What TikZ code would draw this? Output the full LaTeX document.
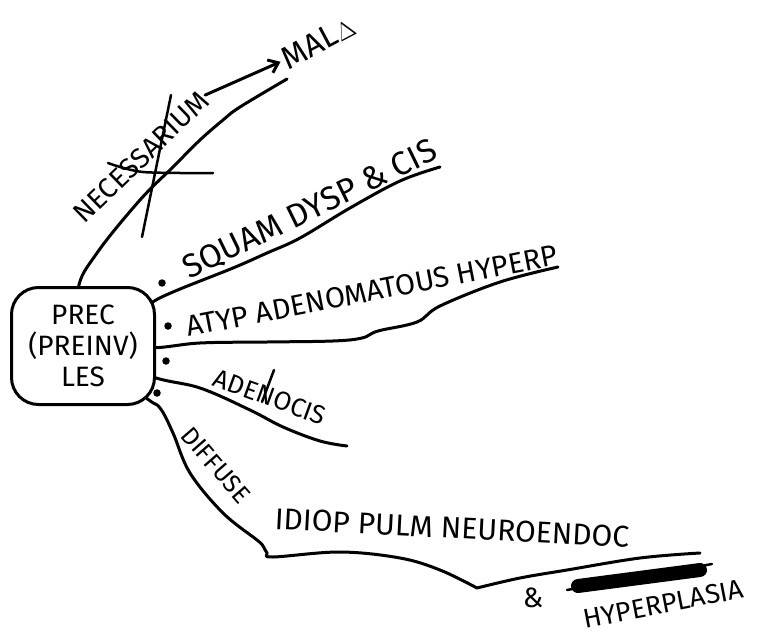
\documentclass[tikz,border=0pt]{standalone}
\usepackage{fontspec}
\setmainfont{Fira Sans}
\usetikzlibrary{positioning,arrows.meta,backgrounds}

\begin{document}
\begin{tikzpicture}[
    x=1pt, y=-1pt,
    hub/.style={draw, fill=white, line width=3pt, rounded corners=27pt,
                minimum width=143pt, minimum height=117pt, inner sep=0pt,
                align=center, font=\fontsize{28}{31}\selectfont},
    branch/.style={line width=3pt, line cap=round, line join=round},
    tag/.style={inner sep=1pt, font=\fontsize{#1}{#1}\selectfont},
    dot/.style={circle, fill, inner sep=0pt, minimum size=7.5pt},
    strike/.style={line width=2.5pt, line cap=round},
    smoothline/.style={branch, smooth, tension=0.6}
]
\useasboundingbox (0,0) rectangle (779,639);

% Central lesion box
\node[hub] (prec) at (83,346) {PREC\\(PREINV)\\LES};

% Branch labels
\node[tag=28, rotate=44] (nec) at (141,157) {NECESSARIUM};
\node[tag=32, rotate=28] (mal) at (318,42) {MAL$\Delta$};
\node[tag=33, rotate=26] (squam) at (310,210) {SQUAM DYSP \& CIS};
\node[tag=29, rotate=11] (atyp) at (372,291) {ATYP ADENOMATOUS HYPERP};
\node[tag=26, rotate=-20] (adeno) at (270,397) {ADENOCIS};
\node[tag=25, rotate=-49] (diff) at (216,465) {DIFFUSE};
\node[tag=30, rotate=-3] (idiop) at (452,528) {IDIOP PULM NEUROENDOC};
\node[tag=28] (amp) at (533,598) {\&};
\node[tag=27, rotate=11] (hyper) at (663,604) {HYPERPLASIA};

% Bullets
\node[dot] (sqdot) at (162,283) {};
\node[dot] (atdot) at (168,326) {};
\node[dot] (addot) at (166,361) {};
\node[dot] (didot) at (157,393) {};

% Branches (start hidden under the box)
\begin{scope}[on background layer]
\draw[smoothline] plot coordinates {(prec.center) (78,290) (97,253) (140,200)
    (173,167) (200,140) (223,120) (240,107) (287,79)};
\draw[smoothline] plot coordinates {(prec.center) (146,306) (173,292) (233,268)
    (267,253) (300,238) (350,208) (400,181) (440,167)};
\draw[smoothline] plot coordinates {(prec.center) (150,348) (200,343) (267,342)
    (333,341) (362,338) (378,331) (417,322) (440,306) (500,282) (558,267)};
\draw[smoothline] plot coordinates {(prec.center) (150,376) (200,388) (250,410)
    (283,427) (320,441) (347,446)};
\draw[smoothline] plot coordinates {(prec.center) (145,397) (160,408) (173,433)
    (190,473) (223,513) (257,540) (263,546) (267,553) (273,557) (340,552)
    (400,558) (440,570) (477,588)};
\draw[smoothline] plot coordinates {(477,588) (520,578) (567,570) (640,558)
    (700,553)};
\end{scope}

% Arrow to malignancy
\draw[branch, -{Straight Barb[length=9pt,width=14pt]}, shorten >=2pt]
    (nec.east) -- (mal.west);

% Crossed out and blotted words
\draw[strike] (171,95) -- (142,237);
\draw[strike, smooth] plot coordinates {(108,163) (143,172) (213,173)};
\draw[strike] (274,370) -- (262,402);
\draw[line width=14pt, line cap=round] (578,586) -- (700,570);
\draw[strike] (567,590) -- (712,564);

\end{tikzpicture}
\end{document}
